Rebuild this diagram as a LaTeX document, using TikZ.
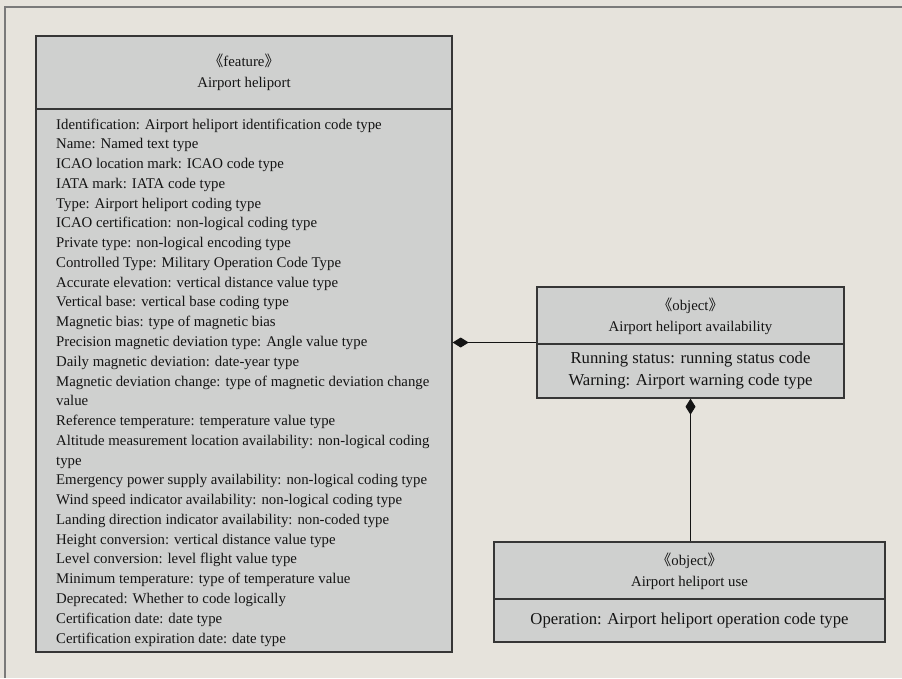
\documentclass[tikz,border=0pt]{standalone}
\usepackage{fontspec}
\setmainfont{Liberation Serif}
\newfontfamily\cjk{Noto Sans CJK SC}
\usetikzlibrary{arrows.meta}
\definecolor{bg}{HTML}{E6E3DC}
\definecolor{boxfill}{HTML}{CFD0CF}
\definecolor{boxline}{HTML}{363636}
\definecolor{framegray}{HTML}{7A7A7A}
\definecolor{ink}{HTML}{141414}
\newcommand{\stereo}[1]{{\cjk《}#1{\cjk》}}

\begin{document}
\begin{tikzpicture}[x=1pt,y=-1pt,
  umlbox/.style={draw=boxline, line width=1.4pt, fill=boxfill, rectangle, inner sep=0pt},
  divider/.style={draw=boxline, line width=1.4pt},
  head/.style={text=ink, align=center, inner sep=0pt, font=\fontsize{14.8}{21}\selectfont},
  attr/.style={text=ink, inner sep=0pt, anchor=base west, font=\fontsize{14.8}{18}\selectfont},
  bigattr/.style={text=ink, align=center, inner sep=0pt, font=\fontsize{16.7}{22}\selectfont},
  comp/.style={draw=ink, line width=1pt, {Diamond[length=16pt,width=10pt,fill=ink]}-}
]
% canvas and frame
\fill[bg] (0,0) rectangle (902,678);
\useasboundingbox (0,0) rectangle (902,678);
\draw[framegray, line width=2pt] (5,678) -- (5,7) -- (902,7);

% class boxes
\node[umlbox, minimum width=416pt, minimum height=616pt] (feat) at (244,344) {};
\node[umlbox, minimum width=307pt, minimum height=111pt] (avail) at (690.5,342.5) {};
\node[umlbox, minimum width=391pt, minimum height=100pt] (use) at (689.5,592) {};

% compartment dividers
\draw[divider] (feat.west |- 0,109) -- (feat.east |- 0,109);
\draw[divider] (avail.west |- 0,344) -- (avail.east |- 0,344);
\draw[divider] (use.west |- 0,599) -- (use.east |- 0,599);

% headers
\node[head] (feathead) at (244,72.5) {\stereo{feature}\\Airport heliport};
\node[head] (availhead) at (690.5,316.5) {\stereo{object}\\Airport heliport availability};
\node[head] (usehead) at (689.5,571) {\stereo{object}\\Airport heliport use};

% attributes of the feature
\foreach \t [count=\i] in {
  Identification: Airport heliport identification code type,
  Name: Named text type,
  ICAO location mark: ICAO code type,
  IATA mark: IATA code type,
  Type: Airport heliport coding type,
  ICAO certification: non-logical coding type,
  Private type: non-logical encoding type,
  Controlled Type: Military Operation Code Type,
  Accurate elevation: vertical distance value type,
  Vertical base: vertical base coding type,
  Magnetic bias: type of magnetic bias,
  Precision magnetic deviation type: Angle value type,
  Daily magnetic deviation: date-year type,
  Magnetic deviation change: type of magnetic deviation change,
  value,
  Reference temperature: temperature value type,
  Altitude measurement location availability: non-logical coding,
  type,
  Emergency power supply availability: non-logical coding type,
  Wind speed indicator availability: non-logical coding type,
  Landing direction indicator availability: non-coded type,
  Height conversion: vertical distance value type,
  Level conversion: level flight value type,
  Minimum temperature: type of temperature value,
  Deprecated: Whether to code logically,
  Certification date: date type,
  Certification expiration date: date type}
  \node[attr] (fa\i) at (56,{129+(\i-1)*19.77}) {\t};

% attributes of the objects
\node[bigattr] (availattr) at (690.5,371) {Running status: running status code\\Warning: Airport warning code type};
\node[bigattr] (useattr) at (689.5,620.5) {Operation: Airport heliport operation code type};

% composition links
\draw[comp] (avail.west -| feat.east) -- (avail.west);
\draw[comp] (avail.south) -- (use.north -| avail.south);
\end{tikzpicture}
\end{document}
